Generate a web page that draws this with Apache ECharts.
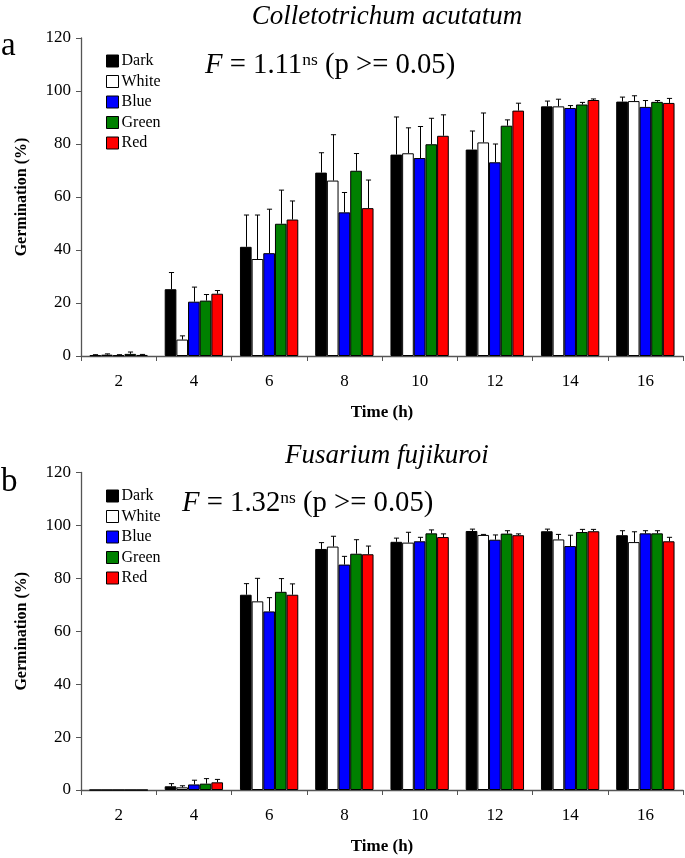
<!DOCTYPE html>
<html><head><meta charset="utf-8">
<script src="https://cdn.jsdelivr.net/npm/echarts@6/dist/echarts.min.js"></script>
<style>html,body{margin:0;padding:0;background:#fff}#c{width:685px;height:858px}</style>
</head><body><div id="c"></div>
<script>
const categories = ['2','4','6','8','10','12','14','16'];
const seriesNames = ['Dark','White','Blue','Green','Red'];
const yTicks = [0,20,40,60,80,100,120];
// Colletotrichum acutatum (a)
const darkA  = [0.3, 25.2, 41.2, 69.2, 76.0, 77.9, 94.2, 96.0];
const whiteA = [0.5, 6.2, 36.6, 66.2, 76.5, 80.6, 94.2, 96.2];
const blueA  = [0.3, 20.5, 38.8, 54.2, 74.7, 73.1, 93.6, 94.0];
const greenA = [0.8, 20.9, 49.9, 69.9, 79.9, 86.9, 94.9, 95.9];
const redA   = [0.4, 23.5, 51.5, 55.8, 83.1, 92.6, 96.6, 95.5];
const darkAsd  = [0.2, 6.3, 12.0, 7.5, 14.2, 7.0, 2.0, 1.7];
const whiteAsd = [0.3, 1.4, 16.6, 17.3, 9.6, 11.1, 2.7, 2.0];
const blueAsd  = [0.2, 5.5, 16.6, 7.5, 11.9, 6.9, 0.9, 2.4];
const greenAsd = [0.7, 2.3, 12.7, 6.5, 9.8, 2.2, 0.8, 0.5];
const redAsd   = [0.2, 1.2, 7.0, 10.6, 7.9, 2.8, 0.4, 1.7];
// Fusarium fujikuroi (b)
const darkB  = [0, 1.4, 73.8, 91.1, 93.8, 97.9, 97.8, 96.3];
const whiteB = [0, 1.0, 71.3, 92.0, 93.5, 96.4, 94.7, 93.7];
const blueB  = [0, 2.1, 67.5, 85.2, 94.0, 94.6, 92.2, 97.0];
const greenB = [0, 2.4, 74.9, 89.3, 97.0, 96.9, 97.5, 97.0];
const redB   = [0, 2.9, 73.8, 89.1, 95.6, 96.3, 97.8, 94.0];
const darkBsd  = [0, 1.0, 4.2, 2.4, 1.4, 0.7, 0.8, 1.7];
const whiteBsd = [0, 0.6, 8.7, 3.9, 3.9, 0.2, 1.9, 3.9];
const blueBsd  = [0, 1.6, 5.2, 3.1, 1.5, 1.8, 4.1, 1.0];
const greenBsd = [0, 1.9, 5.0, 5.3, 1.3, 1.1, 1.0, 1.0];
const redBsd   = [0, 1.1, 4.1, 3.1, 1.2, 0.5, 0.7, 1.5];
const statA = '1.11';
const statB = '1.32';

const colors = ['#000000','#ffffff','#0000ff','#008000','#ff0000'];
const FONT = '"Liberation Serif", "Times New Roman", serif';
const CAT_GAP = 0.225;

const valsA = [darkA, whiteA, blueA, greenA, redA];
const sdA = [darkAsd, whiteAsd, blueAsd, greenAsd, redAsd];
const valsB = [darkB, whiteB, blueB, greenB, redB];
const sdB = [darkBsd, whiteBsd, blueBsd, greenBsd, redBsd];

function errData(vals, sds){
  const out = [];
  vals.forEach((arr, si) => arr.forEach((v, ci) => {
    if (sds[si][ci] > 0) out.push([ci, si, v, v + sds[si][ci]]);
  }));
  return out;
}
function renderErr(params, api){
  const ci = api.value(0), si = api.value(1), v = api.value(2), t = api.value(3);
  const catW = api.size([1, 0])[0];
  const bw = catW * (1 - CAT_GAP) / 5;
  const p0 = api.coord([ci, v]);
  const p1 = api.coord([ci, t]);
  const x = Math.round(p0[0] - 2.5 * bw + (si + 0.5) * bw) + 0.5;
  const cw = bw * 0.22;
  const st = {stroke: '#000', lineWidth: 1};
  return {type: 'group', children: [
    {type: 'line', shape: {x1: x, y1: p0[1], x2: x, y2: p1[1]}, style: st},
    {type: 'line', shape: {x1: x - cw, y1: p1[1], x2: x + cw, y2: p1[1]}, style: st}
  ]};
}

const axisLine = {lineStyle: {color: '#555', width: 1.3}};
function xAxis(gi){
  return {type: 'category', gridIndex: gi, data: categories,
    name: 'Time (h)', nameLocation: 'middle', nameGap: 48,
    nameTextStyle: {fontFamily: FONT, fontSize: 17, fontWeight: 'bold', color: '#000'},
    axisLine: axisLine, axisTick: {show: true, length: 5, lineStyle: {color: '#555'}},
    axisLabel: {fontFamily: FONT, fontSize: 17, color: '#000', margin: 17}};
}
function yAxis(gi){
  return {type: 'value', gridIndex: gi, min: 0, max: 120, interval: 20,
    name: 'Germination (%)', nameLocation: 'middle', nameGap: 51,
    nameTextStyle: {fontFamily: FONT, fontSize: 16, fontWeight: 'bold', color: '#000'},
    axisLine: {show: true, lineStyle: {color: '#555', width: 1.3}},
    axisTick: {show: true, length: 5, lineStyle: {color: '#555'}},
    axisLabel: {fontFamily: FONT, fontSize: 17, color: '#000', margin: 10,
      formatter: v => yTicks.includes(v) ? String(v) : ''},
    splitLine: {show: false}};
}
function barSeries(vals, gi){
  return vals.map((arr, si) => ({
    type: 'bar', name: seriesNames[si], xAxisIndex: gi, yAxisIndex: gi,
    data: arr, barGap: '0%', barCategoryGap: (CAT_GAP * 100) + '%',
    itemStyle: {color: colors[si], borderColor: '#000', borderWidth: 1},
    z: 2
  }));
}
function legend(top){
  return {top: top, left: 101, orient: 'vertical', itemWidth: 12, itemHeight: 12, itemGap: 4.5,
    icon: 'rect', data: seriesNames, selectedMode: false,
    itemStyle: {borderColor: '#000', borderWidth: 1},
    textStyle: {fontFamily: FONT, fontSize: 16, color: '#000', padding: [0, 0, 0, -2]}};
}
function fText(x, y, stat){
  return {type: 'text', left: x, top: y, z: 10,
    style: {text: '{i|F} = ' + stat + '{s|ns} (p >= 0.05)',
      font: '28.7px ' + FONT, fill: '#000',
      rich: {i: {fontStyle: 'italic', fontSize: 28.7, fontFamily: FONT},
             s: {fontSize: 17.5, fontFamily: FONT, verticalAlign: 'top'}}}};
}

const chart = echarts.init(document.getElementById('c'), null, {renderer: 'canvas'});
chart.setOption({
  animation: false,
  backgroundColor: '#fff',
  title: [
    {text: 'Colletotrichum acutatum', left: 382, top: -2, textAlign: 'center',
      textStyle: {fontFamily: FONT, fontSize: 27, fontStyle: 'italic', fontWeight: 'normal', color: '#000'}},
    {text: 'Fusarium fujikuroi', left: 382, top: 437, textAlign: 'center',
      textStyle: {fontFamily: FONT, fontSize: 27, fontStyle: 'italic', fontWeight: 'normal', color: '#000'}}
  ],
  grid: [
    {left: 81, top: 38, width: 602, height: 318},
    {left: 81, top: 472.5, width: 602, height: 317.5}
  ],
  xAxis: [xAxis(0), xAxis(1)],
  yAxis: [yAxis(0), yAxis(1)],
  legend: [legend(48), legend(483)],
  graphic: [
    {type: 'text', left: 1, top: 30, style: {text: 'a', font: '33px ' + FONT, fill: '#000'}},
    {type: 'text', left: 1, top: 466, style: {text: 'b', font: '33px ' + FONT, fill: '#000'}},
    fText(205, 51, statA),
    fText(182, 489, statB)
  ],
  series: [
    ...barSeries(valsA, 0),
    ...barSeries(valsB, 1),
    {type: 'custom', name: 'errA', xAxisIndex: 0, yAxisIndex: 0, renderItem: renderErr,
      data: errData(valsA, sdA), encode: {x: 0, y: 3}, z: 3, silent: true},
    {type: 'custom', name: 'errB', xAxisIndex: 1, yAxisIndex: 1, renderItem: renderErr,
      data: errData(valsB, sdB), encode: {x: 0, y: 3}, z: 3, silent: true}
  ]
});
</script></body></html>
